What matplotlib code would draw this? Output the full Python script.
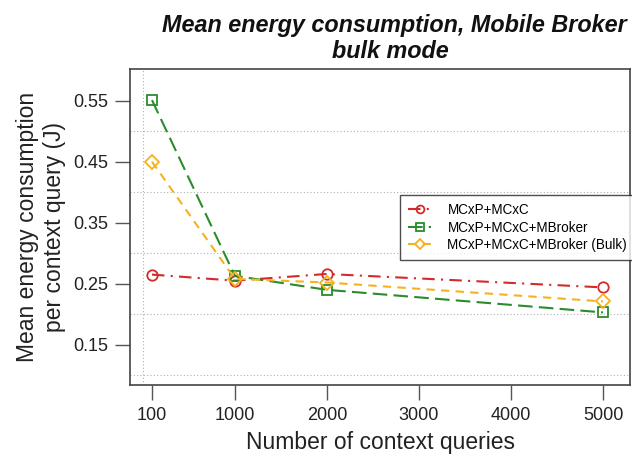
import matplotlib
matplotlib.use("Agg")
import matplotlib.pyplot as plt

plt.rcParams["font.family"] = ["Liberation Sans", "DejaVu Sans"]

# data
queries = [100, 1000, 2000, 5000]
base = [0.265, 0.255, 0.266, 0.244]
broker = [0.551, 0.263, 0.240, 0.203]
bulk = [0.450, 0.258, 0.252, 0.221]

x_ticks = [100, 1000, 2000, 3000, 4000, 5000]
y_ticks = [0.15, 0.25, 0.35, 0.45, 0.55]
x_grid = [0, 1000, 2000, 3000, 4000, 5000]
y_grid = [0.1, 0.2, 0.3, 0.4, 0.5]

red = "#d42a2a"
green = "#2a8c2a"
orange = "#f5b21e"

fig = plt.figure(figsize=(6.32, 4.54), dpi=100)
ax = fig.add_axes([130 / 632, 1 - 385 / 454, 500 / 632, 316 / 454])

ax.plot(queries, base, color=red, linestyle=(0, (6, 3, 1, 3)), lw=1.5,
        marker="o", ms=7.5, mfc="none", mew=1.3, label="MCxP+MCxC")
ax.plot(queries, broker, color=green, linestyle=(0, (7, 3)), lw=1.5,
        marker="s", ms=7, mfc="none", mew=1.3, label="MCxP+MCxC+MBroker")
ax.plot(queries, bulk, color=orange, linestyle=(0, (4, 3)), lw=1.5,
        marker="D", ms=7, mfc="none", mew=1.3, label="MCxP+MCxC+MBroker (Bulk)")

ax.set_xlim(-139, 5293)
ax.set_ylim(0.084, 0.602)

ax.set_xticks(x_ticks)
ax.set_yticks(y_ticks)
ax.set_xticks(x_grid, minor=True)
ax.set_yticks(y_grid, minor=True)
ax.grid(False)
ax.grid(True, which="minor", color="#b0b0b0", linestyle=(0, (1, 2)), lw=0.8)
ax.tick_params(which="minor", length=0)
ax.tick_params(which="major", length=11, width=1, color="#555555",
               labelsize=13, pad=5, labelcolor="#222222")

for s in ax.spines.values():
    s.set_color("#444444")
    s.set_linewidth(1.2)

ax.set_xlabel("Number of context queries", fontsize=16.5, color="#222222", labelpad=5)
ax.set_ylabel("Mean energy consumption\nper context query (J)", fontsize=16.5,
              color="#222222", labelpad=5, linespacing=1.2)

fig.text(394 / 632, 1 - 32 / 454, "Mean energy consumption, Mobile Broker",
         ha="center", va="baseline", fontsize=16.8, fontweight="bold", style="italic",
         color="#111111")
fig.text(390 / 632, 1 - 58 / 454, "bulk mode",
         ha="center", va="baseline", fontsize=16.8, fontweight="bold", style="italic",
         color="#111111")

leg = ax.legend(loc="upper left", bbox_to_anchor=((400 - 130) / 500, (385 - 195) / 316),
                fontsize=9.75, frameon=True, fancybox=False, borderaxespad=0,
                handlelength=1.7, labelspacing=0.26, borderpad=0.6, handletextpad=1.2,
                markerscale=0.75)
leg.get_frame().set_edgecolor("#222222")
leg.get_frame().set_linewidth(1.0)

fig.savefig("out.png", dpi=100)
